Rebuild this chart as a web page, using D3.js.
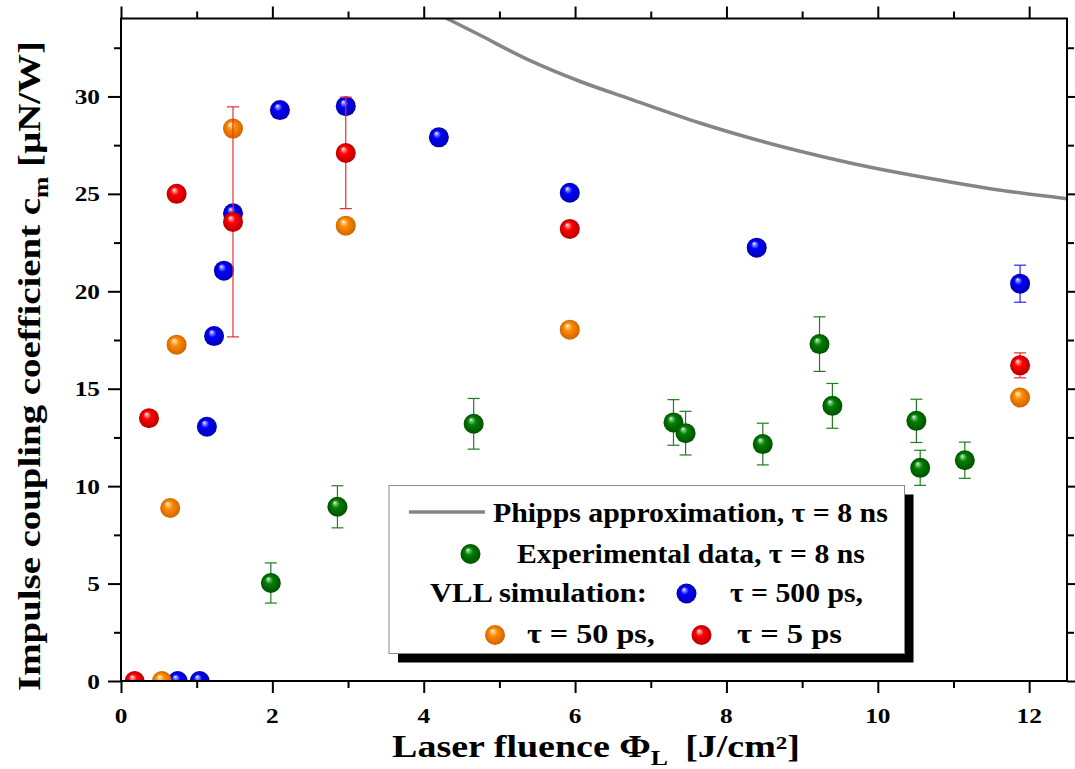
<!DOCTYPE html>
<html><head><meta charset="utf-8">
<script src="https://cdn.jsdelivr.net/npm/d3@7"></script>
<style>
body{margin:0;background:#fff}
svg{display:block}
</style>
</head><body>
<svg id="chart" width="1075" height="769" font-family="Liberation Serif, Times New Roman, serif" font-weight="bold"></svg>
<script>
(function(){
// ---------- data ----------
const xTickValues = [0, 2, 4, 6, 8, 10, 12];
const xMinorTicks = [1, 3, 5, 7, 9, 11];
const yTickValues = [0, 5, 10, 15, 20, 25, 30];
const yMinorTicks = [2.5, 7.5, 12.5, 17.5, 22.5, 27.5, 32.5];

const phippsX = [4.20, 4.28, 4.74, 5.40, 6.06, 6.72, 7.64, 8.30, 8.96, 9.62, 10.28, 10.94, 11.60, 12.5];
const phippsY = [34.2, 34.05, 33.15, 31.85, 30.78, 29.88, 28.65, 27.88, 27.2, 26.6, 26.08, 25.62, 25.2, 24.75];

const blueX   = [0.75, 1.04, 1.135, 1.23, 1.36, 1.48, 2.10, 2.97, 4.20, 5.93, 8.40, 11.88];
const blueY   = [0, 0, 13.05, 17.7, 21.06, 24.0, 29.3, 29.5, 27.9, 25.06, 22.24, 20.39];
const blueErr = [0, 0, 0, 0, 0, 0, 0, 0, 0, 0, 0, 0.95];

const orangeX   = [0.54, 0.65, 0.735, 1.48, 2.97, 5.93, 11.88];
const orangeY   = [0, 8.88, 17.26, 28.35, 23.37, 18.03, 14.55];
const orangeErr = [0, 0, 0, 0, 0, 0, 0];

const redX   = [0.18, 0.37, 0.735, 1.48, 2.97, 5.93, 11.88];
const redY   = [0, 13.49, 25.0, 23.56, 27.1, 23.2, 16.2];
const redErr = [0, 0, 0, 5.9, 2.86, 0, 0.64];

const greenX   = [1.98, 2.86, 4.66, 7.30, 7.46, 8.48, 9.23, 9.40, 10.51, 10.56, 11.15];
const greenY   = [5.03, 8.94, 13.2, 13.27, 12.72, 12.16, 17.29, 14.12, 13.35, 10.94, 11.33];
const greenErr = [1.03, 1.08, 1.3, 1.17, 1.12, 1.07, 1.4, 1.15, 1.11, 0.9, 0.93];

// ---------- layout ----------
const W = 1075, H = 769;
const m = {left: 121, right: 8, top: 18.5, bottom: 88};
const svg = d3.select("#chart");
const x = d3.scaleLinear().domain([0, 12.5]).range([m.left, W - m.right]);
const y = d3.scaleLinear().domain([0, 34]).range([H - m.bottom, m.top]);

const defs = svg.append("defs");
defs.append("clipPath").attr("id", "plotClip").append("rect")
  .attr("x", x(0)).attr("y", y(34)).attr("width", x(12.5) - x(0)).attr("height", y(0) - y(34));

const sphereColors = {
  blue:   ["#9a9aff", "#0000ff", "#0000b0"],
  orange: ["#ffd49a", "#ff8c00", "#d06400"],
  red:    ["#ff9a9a", "#ff0000", "#b80000"],
  green:  ["#88c888", "#008000", "#005000"]
};
Object.entries(sphereColors).forEach(([k, c]) => {
  const g = defs.append("radialGradient").attr("id", "g_" + k)
    .attr("cx", "50%").attr("cy", "50%").attr("r", "50%").attr("fx", "36%").attr("fy", "28%");
  g.append("stop").attr("offset", "0%").attr("stop-color", "#ffffff");
  g.append("stop").attr("offset", "13%").attr("stop-color", c[0]);
  g.append("stop").attr("offset", "40%").attr("stop-color", c[1]);
  g.append("stop").attr("offset", "100%").attr("stop-color", c[2]);
});

const R = 10;

// ---------- plot contents ----------
const plot = svg.append("g").attr("clip-path", "url(#plotClip)");

const phipps = phippsX.map((v, i) => [v, phippsY[i]]);
plot.append("path").datum(phipps)
  .attr("fill", "none").attr("stroke", "#858585").attr("stroke-width", 3.5)
  .attr("d", d3.line().x(d => x(d[0])).y(d => y(d[1])).curve(d3.curveCatmullRom.alpha(0.5)));

function series(xs, ys, es, key, errColor) {
  const data = xs.map((v, i) => ({x: v, y: ys[i], e: es[i]}));
  const eb = plot.append("g").attr("stroke", errColor).attr("stroke-width", 1.2).attr("fill", "none");
  data.filter(d => d.e > 0).forEach(d => {
    eb.append("line").attr("x1", x(d.x)).attr("x2", x(d.x)).attr("y1", y(d.y - d.e)).attr("y2", y(d.y + d.e));
    [d.y - d.e, d.y + d.e].forEach(v => {
      eb.append("line").attr("x1", x(d.x) - 6).attr("x2", x(d.x) + 6).attr("y1", y(v)).attr("y2", y(v));
    });
  });
  plot.append("g").selectAll("circle").data(data).join("circle")
    .attr("cx", d => x(d.x)).attr("cy", d => y(d.y)).attr("r", R)
    .attr("fill", "url(#g_" + key + ")");
}
series(blueX, blueY, blueErr, "blue", "#2020ff");
series(orangeX, orangeY, orangeErr, "orange", "#ff8a00");
series(redX, redY, redErr, "red", "#e83030");
series(greenX, greenY, greenErr, "green", "#1e7f1e");

// ---------- axes ----------
function styleAxis(g) {
  g.select(".domain").remove();
  g.selectAll(".tick line").attr("stroke", "#000").attr("stroke-width", 2);
  g.selectAll(".tick text").remove();
}
const pB = H - m.bottom, pT = m.top, pL = m.left, pR = W - m.right;
svg.append("g").attr("transform", `translate(0,${pB})`).call(d3.axisBottom(x).tickValues(xTickValues).tickSize(12).tickFormat("")).call(styleAxis);
svg.append("g").attr("transform", `translate(0,${pB})`).call(d3.axisBottom(x).tickValues(xMinorTicks).tickSize(7).tickFormat("")).call(styleAxis);
svg.append("g").attr("transform", `translate(0,${pT})`).call(d3.axisTop(x).tickValues(xTickValues).tickSize(12).tickFormat("")).call(styleAxis);
svg.append("g").attr("transform", `translate(0,${pT})`).call(d3.axisTop(x).tickValues(xMinorTicks).tickSize(7).tickFormat("")).call(styleAxis);
svg.append("g").attr("transform", `translate(${pL},0)`).call(d3.axisLeft(y).tickValues(yTickValues).tickSize(13).tickFormat("")).call(styleAxis);
svg.append("g").attr("transform", `translate(${pL},0)`).call(d3.axisLeft(y).tickValues(yMinorTicks).tickSize(7).tickFormat("")).call(styleAxis);
svg.append("g").attr("transform", `translate(${pR},0)`).call(d3.axisRight(y).tickValues(yTickValues).tickSize(12).tickFormat("")).call(styleAxis);
svg.append("g").attr("transform", `translate(${pR},0)`).call(d3.axisRight(y).tickValues(yMinorTicks).tickSize(7).tickFormat("")).call(styleAxis);

svg.append("rect").attr("x", pL).attr("y", pT).attr("width", pR - pL).attr("height", pB - pT)
  .attr("fill", "none").attr("stroke", "#000").attr("stroke-width", 2);

// tick labels (horizontally widened serif)
const SX = 1.15;
xTickValues.forEach(v => {
  svg.append("g").attr("transform", `translate(${x(v)},${pB + 42}) scale(${SX},1)`)
    .append("text").attr("text-anchor", "middle").attr("font-size", 22).text(v);
});
yTickValues.forEach(v => {
  svg.append("g").attr("transform", `translate(${pL - 21},${y(v) + 7.5}) scale(${SX},1)`)
    .append("text").attr("text-anchor", "end").attr("font-size", 22).text(v);
});

// fit helper: stretch text along its reading direction to a target length
function fitted(parent, tx, ty, rot, anchor, size, target, build) {
  const g = parent.append("g").attr("transform", `translate(${tx},${ty}) rotate(${rot})`);
  const t = g.append("text").attr("text-anchor", anchor).attr("font-size", size);
  build(t);
  const w = t.node().getBBox().width;
  t.attr("transform", `scale(${target / w},1)`);
  return t;
}

// axis titles
fitted(svg, 596, 757, 0, "middle", 31, 408, t => {
  t.append("tspan").text("Laser fluence Φ");
  t.append("tspan").attr("font-size", 21).attr("dy", 8).text("L");
  t.append("tspan").attr("dy", -8).text("\u2009 [J/cm²]");
});
fitted(svg, 40, 366, -90, "middle", 32, 650, t => {
  t.append("tspan").text("Impulse coupling coefficient c");
  t.append("tspan").attr("font-size", 21).attr("dy", 8).text("m");
  t.append("tspan").attr("dy", -8).text(" [µN/W]");
});

// ---------- legend ----------
const lg = svg.append("g");
lg.append("rect").attr("x", 398).attr("y", 494.5).attr("width", 515.5).attr("height", 168).attr("fill", "#000");
lg.append("rect").attr("x", 389).attr("y", 485.5).attr("width", 515.5).attr("height", 168)
  .attr("fill", "#fff").attr("stroke", "#8a8a8a").attr("stroke-width", 1);
lg.append("line").attr("x1", 409).attr("x2", 485).attr("y1", 512).attr("y2", 512)
  .attr("stroke", "#858585").attr("stroke-width", 3.5);
const legMarkers = [["green", 470.5, 554], ["blue", 686.5, 593.5], ["orange", 495, 635], ["red", 701.5, 635]];
legMarkers.forEach(([k, cx, cy]) => lg.append("circle").attr("cx", cx).attr("cy", cy).attr("r", R).attr("fill", "url(#g_" + k + ")"));
const legTexts = [
  ["Phipps approximation, τ = 8 ns", 493, 522, 395],
  ["Experimental data, τ = 8 ns", 517, 563, 348],
  ["VLL simulation:", 430, 602, 217],
  ["τ = 500 ps,", 730, 602, 133],
  ["τ = 50 ps,", 527, 643, 128],
  ["τ = 5 ps", 737, 643, 105]
];
legTexts.forEach(([s, tx, ty, w]) => fitted(lg, tx, ty, 0, "start", 27, w, t => t.text(s)));
})();
</script>
</body></html>
